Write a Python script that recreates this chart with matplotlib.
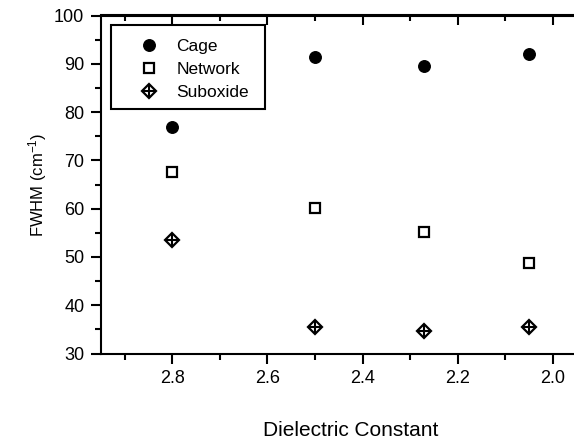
import matplotlib
matplotlib.use("Agg")
import matplotlib.pyplot as plt
from matplotlib.ticker import MultipleLocator
from matplotlib.legend_handler import HandlerTuple
from matplotlib.patches import Rectangle

plt.rcParams['font.family'] = ['Liberation Sans', 'DejaVu Sans']
plt.rcParams['mathtext.fontset'] = 'custom'
plt.rcParams['mathtext.rm'] = 'Liberation Sans'
plt.rcParams['mathtext.it'] = 'Liberation Sans'
plt.rcParams['mathtext.default'] = 'regular'

# Dielectric constant of each film
k_cage = [2.8, 2.5, 2.27, 2.05]
k_network = [2.8, 2.5, 2.27, 2.05]
k_suboxide = [2.8, 2.5, 2.27, 2.05]

# FWHM of each Si-O-Si band component (cm^-1)
fwhm_cage = [76.9, 91.4, 89.6, 92.0]
fwhm_network = [67.6, 60.2, 55.2, 48.7]
fwhm_suboxide = [53.5, 35.5, 34.6, 35.5]

series_labels = ["Cage", "Network", "Suboxide"]

W, H = 574, 445
fig = plt.figure(figsize=(W / 100, H / 100), dpi=100)
ax = fig.add_axes([101 / W, 91.5 / H, 499.3 / W, 338 / H])

h_cage, = ax.plot(k_cage, fwhm_cage, linestyle='none', marker='o',
                  markersize=8.3, color='black')
h_net, = ax.plot(k_network, fwhm_network, linestyle='none', marker='s',
                 markersize=6.5, markerfacecolor='white',
                 markeredgecolor='black', markeredgewidth=1.6)
h_sub_d, = ax.plot(k_suboxide, fwhm_suboxide, linestyle='none', marker='D',
                   markersize=7.6, markerfacecolor='white',
                   markeredgecolor='black', markeredgewidth=1.6)
h_sub_p, = ax.plot(k_suboxide, fwhm_suboxide, linestyle='none', marker='+',
                   markersize=10.5, markeredgecolor='black', markeredgewidth=1.5)

ax.set_xlim(2.95, 1.9)
ax.set_ylim(30, 100)

ax.xaxis.set_major_locator(MultipleLocator(0.2))
ax.xaxis.set_minor_locator(MultipleLocator(0.1))
ax.yaxis.set_major_locator(MultipleLocator(10))
ax.yaxis.set_minor_locator(MultipleLocator(5))
ax.xaxis.set_major_formatter(plt.FormatStrFormatter('%.1f'))

for side in ['left', 'bottom', 'top', 'right']:
    ax.spines[side].set_linewidth(1.5)

ax.tick_params(axis='both', which='major', labelsize=13, width=1.5,
               length=7, color='black')
ax.tick_params(axis='both', which='minor', width=1.5, length=4)
ax.tick_params(axis='x', which='both', direction='out', top=False)
ax.tick_params(axis='y', which='both', direction='out', right=False)
ax.tick_params(axis='x', which='major', pad=5)
ax.tick_params(axis='y', which='major', pad=5)

# Top axis carries inward ticks only
top = ax.secondary_xaxis('top')
top.xaxis.set_major_locator(MultipleLocator(0.2))
top.xaxis.set_minor_locator(MultipleLocator(0.1))
top.tick_params(which='major', direction='in', length=7, width=1.5,
                labeltop=False)
top.tick_params(which='minor', direction='in', length=4, width=1.5)
top.spines['top'].set_linewidth(1.5)

ax.set_xlabel("Dielectric Constant", fontsize=15, labelpad=24)
ax.set_ylabel("FWHM (cm$^{-1}$)", fontsize=12, labelpad=4)

# Legend entries without their own frame; the box is drawn separately
leg = ax.legend([h_cage, h_net, (h_sub_d, h_sub_p)], series_labels,
                handler_map={tuple: HandlerTuple(ndivide=1)},
                loc='upper left',
                bbox_to_anchor=(127 / W, 1 - 31 / H),
                bbox_transform=fig.transFigure,
                fontsize=12.5, frameon=False,
                borderpad=0.45, labelspacing=0.45,
                handlelength=1.6, handletextpad=0.8, borderaxespad=0)

box = Rectangle((110.7 / W, 1 - 109.3 / H), (265 - 110.7) / W,
                (109.3 - 25) / H, transform=fig.transFigure,
                fill=True, facecolor='white', edgecolor='black',
                linewidth=1.5, zorder=4)
fig.add_artist(box)
leg.set_zorder(5)
fig.add_artist(leg)

fig.savefig("out.png", dpi=100)
